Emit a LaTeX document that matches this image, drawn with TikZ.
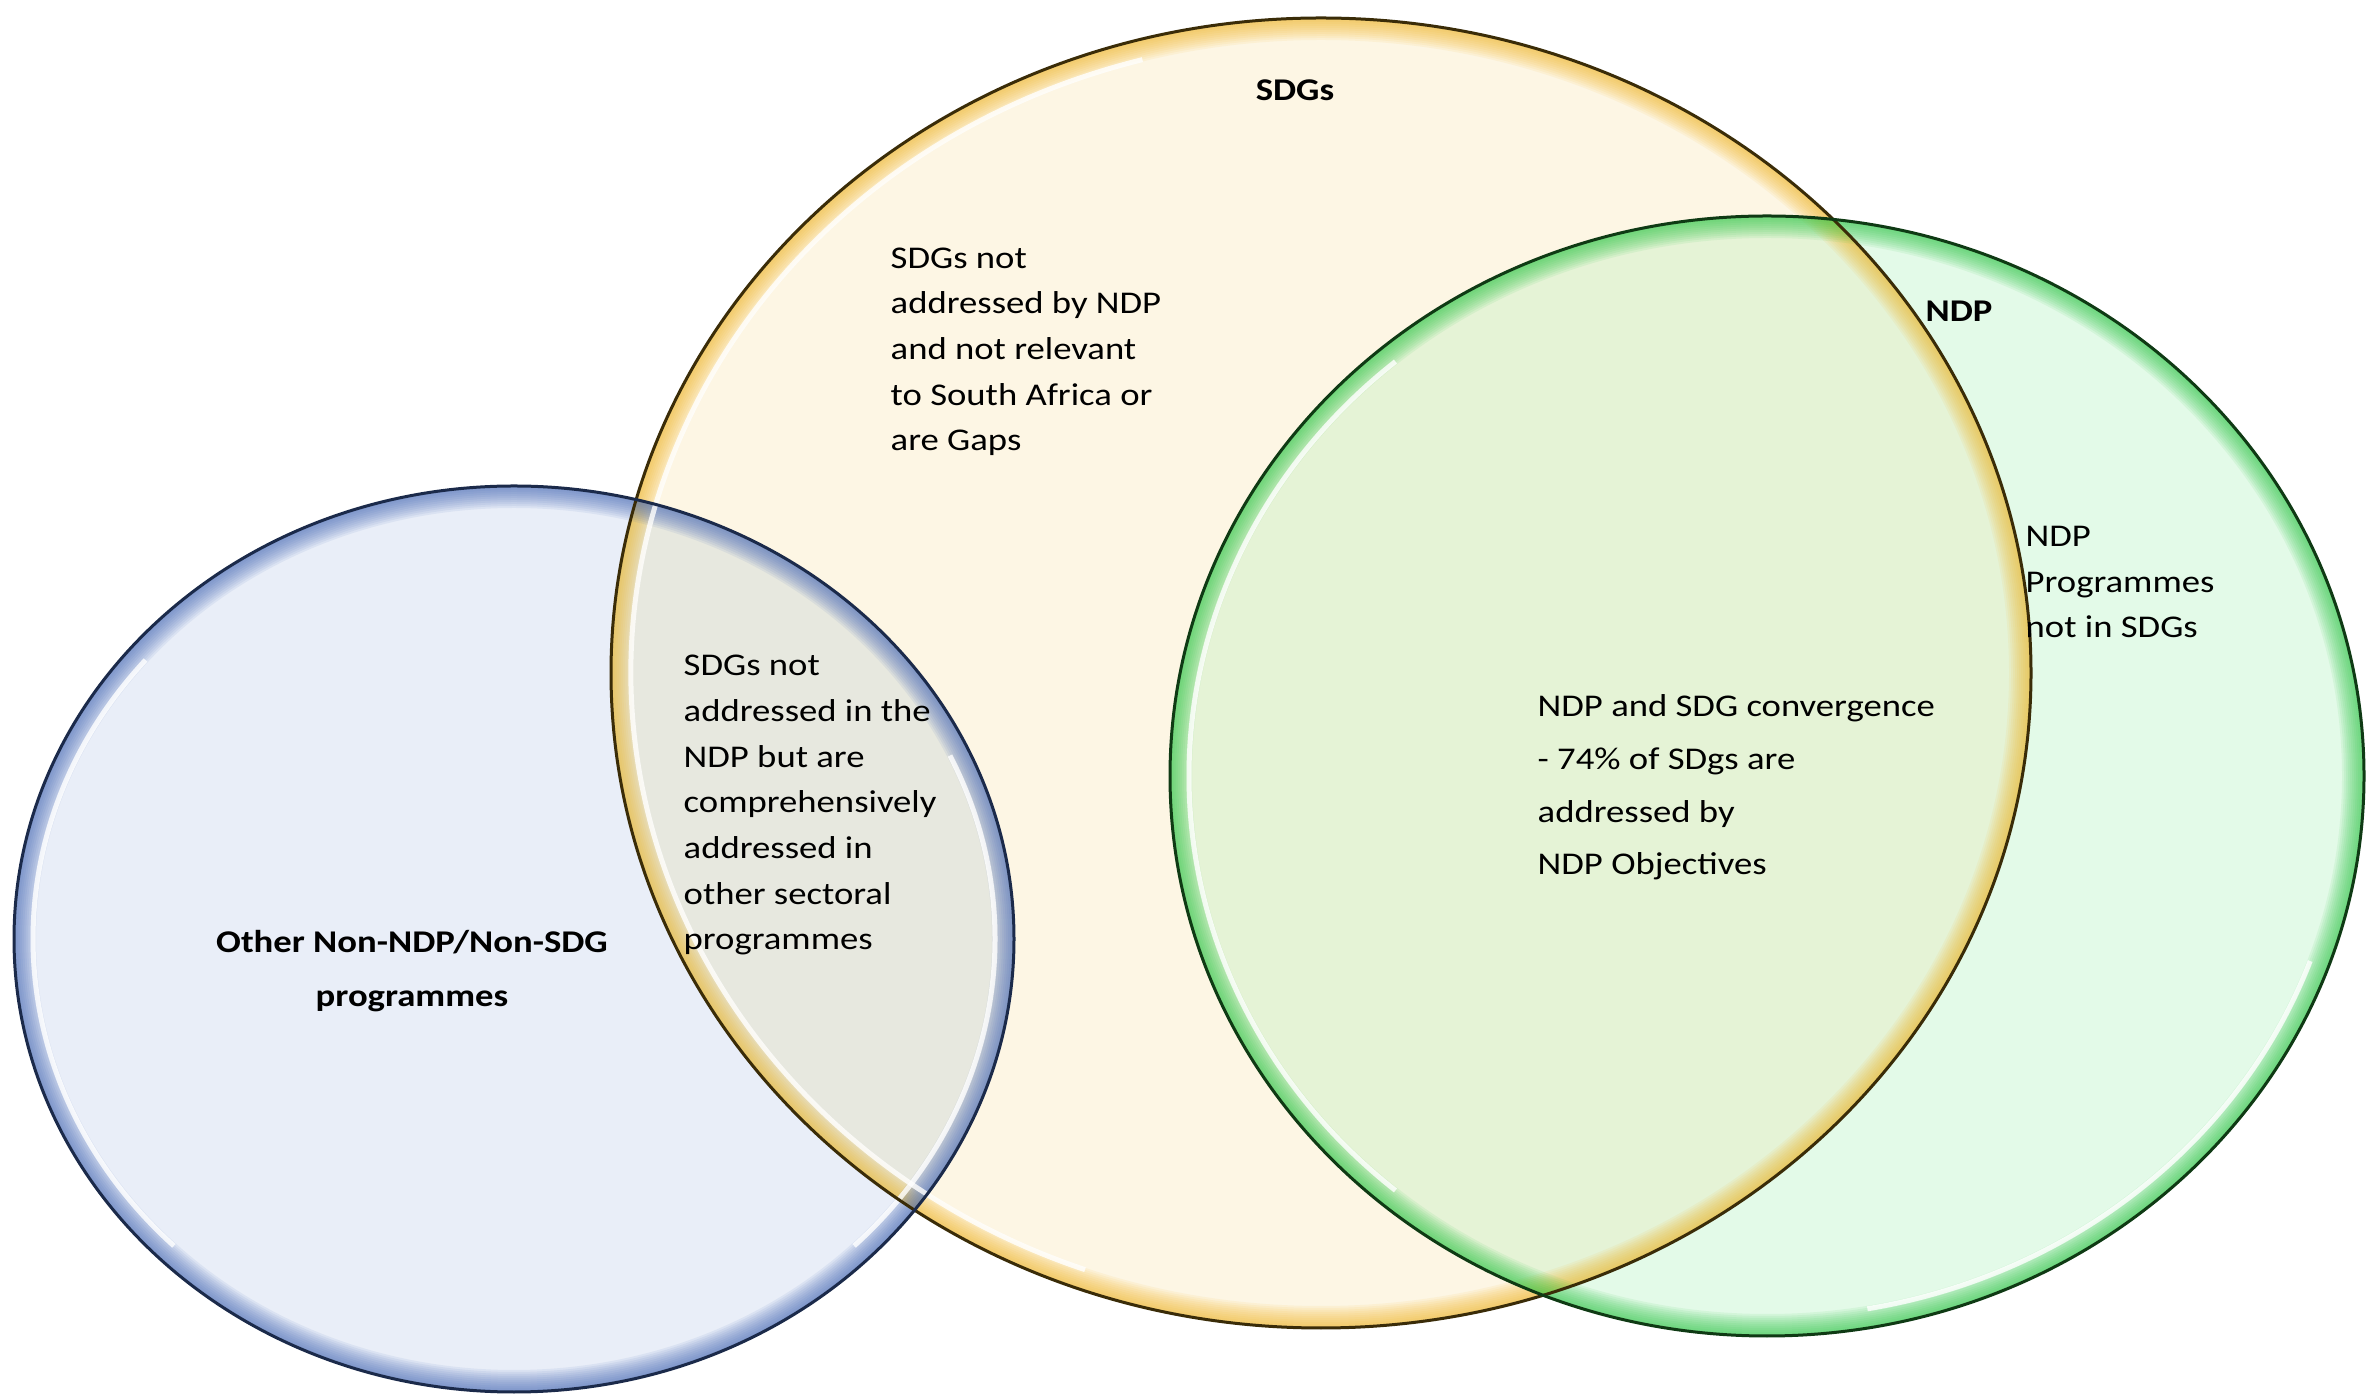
\documentclass[tikz,border=0pt]{standalone}
\usepackage{fontspec}
\setmainfont{Carlito}[FakeStretch=1.16]
\usepackage{tikz}

\definecolor{sdgfill}{HTML}{FDF6E4}
\definecolor{sdgrim}{HTML}{F2B930}
\definecolor{sdgline}{HTML}{3A2C08}
\definecolor{ndpfill}{HTML}{E3FAE8}
\definecolor{ndprim}{HTML}{33C84A}
\definecolor{ndpline}{HTML}{0F3A14}
\definecolor{otherfill}{HTML}{E9EEF8}
\definecolor{otherrim}{HTML}{4A6CB8}
\definecolor{otherline}{HTML}{1B2A4A}
\definecolor{bothfill}{HTML}{E5F3D6}
\definecolor{mixfill}{HTML}{E7E8DF}

\def\sdgset{(13.21,7.24) ellipse [x radius=7.10, y radius=6.55]}
\def\ndpset{(17.67,6.21) ellipse [x radius=5.97, y radius=5.60]}
\def\otherset{(5.14,4.58) ellipse [x radius=5.00, y radius=4.53]}

\begin{document}
\begin{tikzpicture}[
  region/.style={anchor=base west, align=left, inner sep=0pt, font=\fontsize{9}{13}\selectfont},
  settitle/.style={anchor=base, align=center, inner sep=0pt, font=\bfseries\fontsize{9}{15.6}\selectfont},
  shine/.style={white, line width=0.05cm, opacity=0.8}]
\useasboundingbox (0,0) rectangle (23.67,13.97);

% fills
\fill[sdgfill] \sdgset;
\fill[ndpfill] \ndpset;
\fill[otherfill] \otherset;
\begin{scope}
  \clip \sdgset;
  \fill[bothfill] \ndpset;
  \fill[mixfill] \otherset;
\end{scope}

% inner glow
\begin{scope}
  \clip \sdgset;
  \foreach \w in {0.04,0.08,...,0.48}
    \draw[sdgrim, line width=\w cm, draw opacity=0.09] \sdgset;
\end{scope}
\begin{scope}
  \clip \ndpset;
  \foreach \w in {0.04,0.08,...,0.48}
    \draw[ndprim, line width=\w cm, draw opacity=0.09] \ndpset;
\end{scope}
\begin{scope}
  \clip \otherset;
  \foreach \w in {0.04,0.08,...,0.48}
    \draw[otherrim, line width=\w cm, draw opacity=0.09] \otherset;
\end{scope}

% highlights
\draw[shine] ([shift={(105:6.90 and 6.35)}]13.21,7.24) arc [start angle=105, end angle=250, x radius=6.90, y radius=6.35];
\draw[shine] ([shift={(130:5.78 and 5.41)}]17.67,6.21) arc [start angle=130, end angle=230, x radius=5.78, y radius=5.41];
\draw[shine] ([shift={(-80:5.78 and 5.41)}]17.67,6.21) arc [start angle=-80, end angle=-20, x radius=5.78, y radius=5.41];
\draw[shine] ([shift={(140:4.81 and 4.34)}]5.14,4.58) arc [start angle=140, end angle=225, x radius=4.81, y radius=4.34];
\draw[shine] ([shift={(-45:4.81 and 4.34)}]5.14,4.58) arc [start angle=-45, end angle=25, x radius=4.81, y radius=4.34];

% outlines
\draw[sdgline, line width=0.03cm] \sdgset;
\draw[ndpline, line width=0.03cm] \ndpset;
\draw[otherline, line width=0.03cm] \otherset;

% labels (base = last line)
\node[settitle] (sdgs) at (12.95,12.96) {SDGs};
\node[settitle] (ndp) at (19.59,10.75) {NDP};
\node[settitle] (other) at (4.12,3.90) {Other Non-NDP/Non-SDG\\programmes};
\node[region] (gaps) at (8.90,9.46) {SDGs not\\addressed by NDP\\and not relevant\\to South Africa or\\are Gaps};
\node[region] (sectoral) at (6.83,4.47) {SDGs not\\addressed in the\\NDP but are\\comprehensively\\addressed in\\other sectoral\\programmes};
\node[region, font=\fontsize{9}{15}\selectfont] (converge) at (15.37,5.22) {NDP and SDG convergence\\- 74\% of SDgs are\\addressed by\\NDP Objectives};
\node[region] (ndponly) at (20.25,7.59) {NDP\\Programmes\\not in SDGs};
\end{tikzpicture}
\end{document}
